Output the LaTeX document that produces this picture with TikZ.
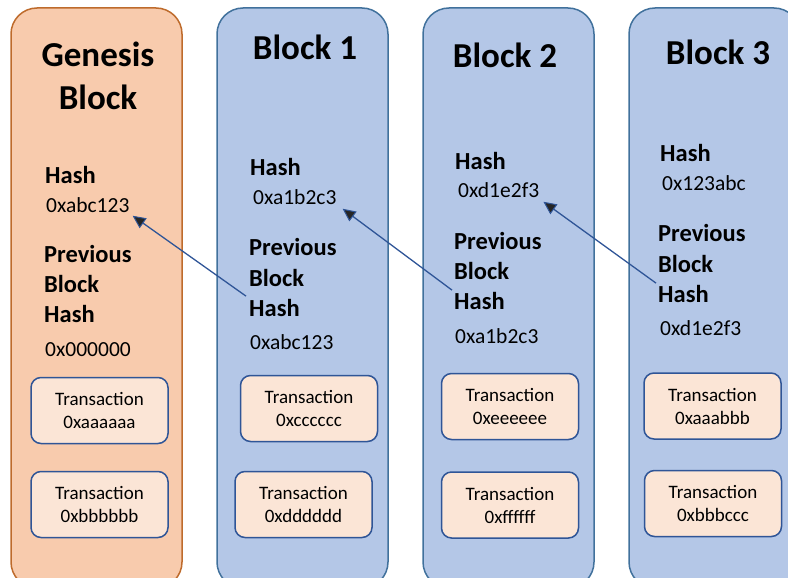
\documentclass[tikz,border=0pt]{standalone}
\usepackage{fontspec}
\setmainfont{Carlito}
\usetikzlibrary{arrows.meta}
\definecolor{genfill}{HTML}{F8CBAD}
\definecolor{genline}{HTML}{BE6B2C}
\definecolor{blkfill}{HTML}{B4C7E7}
\definecolor{blkline}{HTML}{41719C}
\definecolor{txfill}{HTML}{FBE5D6}
\definecolor{txline}{HTML}{2F5597}
\definecolor{linkcol}{HTML}{2F5597}
\tikzset{
  chainblock/.style={draw, rounded corners=26pt, line width=1.5pt, minimum width=171pt,
    minimum height=580pt, inner sep=0pt},
  genesis/.style={chainblock, draw=genline, fill=genfill},
  plainblock/.style={chainblock, draw=blkline, fill=blkfill},
  blocktitle/.style={font=\fontsize{35}{43}\selectfont\bfseries, align=center, inner sep=0pt},
  field/.style={font=\fontsize{24.5}{30}\selectfont\bfseries, anchor=west, inner sep=0pt},
  hexval/.style={font=\fontsize{21.5}{25}\selectfont, anchor=west, inner sep=0pt},
  txbox/.style={draw=txline, fill=txfill, line width=1.5pt, rounded corners=10pt,
    minimum width=137pt, minimum height=66pt, align=center, inner sep=0pt,
    font=\fontsize{19}{23}\selectfont},
  link/.style={draw=linkcol, line width=1.3pt,
    -{Triangle[length=13pt,width=12pt,fill=black!85,line width=1pt]}}
}
\begin{document}
\begin{tikzpicture}[x=1pt, y=-1pt]
\useasboundingbox (0,0) rectangle (788,578);
\clip (0,0) rectangle (788,578);

% the four blocks of the chain
\node[genesis]    (g)  at (96.5, 298) {};
\node[plainblock] (b1) at (302.5, 298) {};
\node[plainblock] (b2) at (508.5, 298) {};
\node[plainblock] (b3) at (714.5, 298) {};

% genesis block
\node[blocktitle] (gt) at (98, 76) {Genesis\\Block};
\node[field]  (gh)  at (45, 175) {Hash};
\node[hexval] (ghv) at (46, 205) {0xabc123};
\node[field]  (gp1) at (44, 254) {Previous};
\node[field]  (gp2) at (44, 284) {Block};
\node[field]  (gp3) at (44, 314) {Hash};
\node[hexval] (gpv) at (45, 350) {0x000000};
\node[txbox]  (gx1) at (99.5, 410.5) {Transaction\\0xaaaaaa};
\node[txbox]  (gx2) at (99.5, 504.5) {Transaction\\0xbbbbbb};

% block 1
\node[blocktitle] (t1) at (305, 47) {Block 1};
\node[field]  (h1)  at (250, 167) {Hash};
\node[hexval] (hv1) at (253, 197) {0xa1b2c3};
\node[field]  (p1a) at (249, 247) {Previous};
\node[field]  (p1b) at (249, 278) {Block};
\node[field]  (p1c) at (249, 308) {Hash};
\node[hexval] (pv1) at (250, 342) {0xabc123};
\node[txbox]  (x1a) at (309, 408.5) {Transaction\\0xcccccc};
\node[txbox]  (x1b) at (303.5, 504.5) {Transaction\\0xdddddd};

% block 2
\node[blocktitle] (t2) at (505, 55) {Block 2};
\node[field]  (h2)  at (455, 161) {Hash};
\node[hexval] (hv2) at (458, 190) {0xd1e2f3};
\node[field]  (p2a) at (454, 241) {Previous};
\node[field]  (p2b) at (454, 271) {Block};
\node[field]  (p2c) at (454, 301) {Hash};
\node[hexval] (pv2) at (455, 336) {0xa1b2c3};
\node[txbox]  (x2a) at (510, 406.5) {Transaction\\0xeeeeee};
\node[txbox]  (x2b) at (510, 505) {Transaction\\0xffffff};

% block 3
\node[blocktitle] (t3) at (718, 52) {Block 3};
\node[field]  (h3)  at (660, 153) {Hash};
\node[hexval] (hv3) at (662, 183) {0x123abc};
\node[field]  (p3a) at (658, 233) {Previous};
\node[field]  (p3b) at (658, 264) {Block};
\node[field]  (p3c) at (658, 294) {Hash};
\node[hexval] (pv3) at (660, 328) {0xd1e2f3};
\node[txbox]  (x3a) at (712.5, 406) {Transaction\\0xaaabbb};
\node[txbox]  (x3b) at (713, 503.5) {Transaction\\0xbbbccc};

% links from each previous-block hash to the hash it refers to
\draw[link] ([xshift=-3pt,yshift=3pt]p1c.north west) -- ([xshift=3pt,yshift=-3pt]ghv.south east);
\draw[link] ([xshift=-2pt,yshift=2pt]p2c.north west) -- ([xshift=6pt,yshift=-4pt]hv1.south east);
\draw[link] ([xshift=-2pt,yshift=2pt]p3c.north west) -- ([xshift=4pt,yshift=-4pt]hv2.south east);
\end{tikzpicture}
\end{document}
